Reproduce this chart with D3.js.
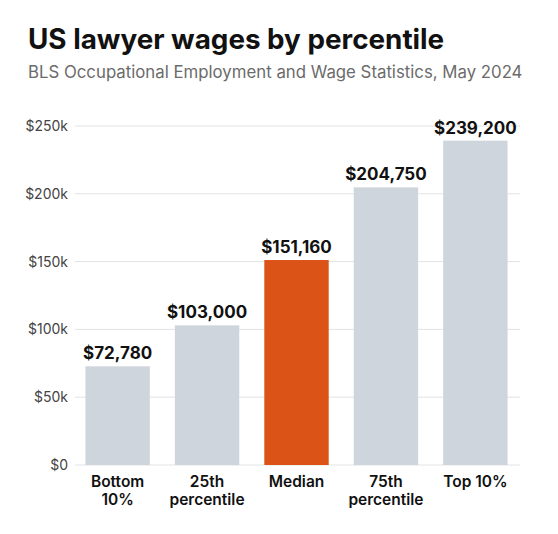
<!DOCTYPE html>
<html><head><meta charset="utf-8">
<script src="https://cdn.jsdelivr.net/npm/d3@7"></script>
<style>body{margin:0;background:#fff;font-family:Inter,sans-serif}</style>
</head><body><svg id="c" width="558" height="534"></svg>
<script>
const categories = [["Bottom","10%"],["25th","percentile"],["Median"],["75th","percentile"],["Top 10%"]];
const wages = [72780,103000,151160,204750,239200];
const highlight = [false,false,true,false,false];
const ticks = [0,50000,100000,150000,200000,250000];
const tickLabels = ["$0","$50k","$100k","$150k","$200k","$250k"];

const svg = d3.select("#c");
svg.append("text").attr("x",28).attr("y",49).attr("font-size",27.8).attr("font-weight",700).attr("fill","#111").text("US lawyer wages by percentile");
svg.append("text").attr("x",28).attr("y",78).attr("font-size",16.8).attr("fill","#6b6b6b").text("BLS Occupational Employment and Wage Statistics, May 2024");

const y = d3.scaleLinear().domain([0,250000]).range([465,126]);
const x = d3.scaleBand().domain(d3.range(wages.length)).range([72,521]).paddingInner(0.28).paddingOuter(0.15);

const g = svg.append("g");
ticks.forEach((t,i)=>{
  g.append("line").attr("x1",75).attr("x2",520).attr("y1",y(t)).attr("y2",y(t)).attr("stroke","#e3e3e3");
  g.append("text").attr("x",68).attr("y",y(t)+5).attr("text-anchor","end").attr("font-size",14).attr("fill","#444").text(tickLabels[i]);
});
wages.forEach((v,i)=>{
  g.append("rect").attr("x",x(i)).attr("width",x.bandwidth()).attr("y",y(v)).attr("height",y(0)-y(v))
    .attr("fill",highlight[i]?"#dc5318":"#cfd5dc");
  g.append("text").attr("x",x(i)+x.bandwidth()/2).attr("y",y(v)-7).attr("text-anchor","middle")
    .attr("font-size",17).attr("font-weight",700).attr("fill","#111").text("$"+d3.format(",")(v));
  categories[i].forEach((l,j)=>{
    g.append("text").attr("x",x(i)+x.bandwidth()/2).attr("y",487+j*18).attr("text-anchor","middle")
      .attr("font-size",15.5).attr("font-weight",600).attr("fill","#111").text(l);
  });
});
</script></body></html>
